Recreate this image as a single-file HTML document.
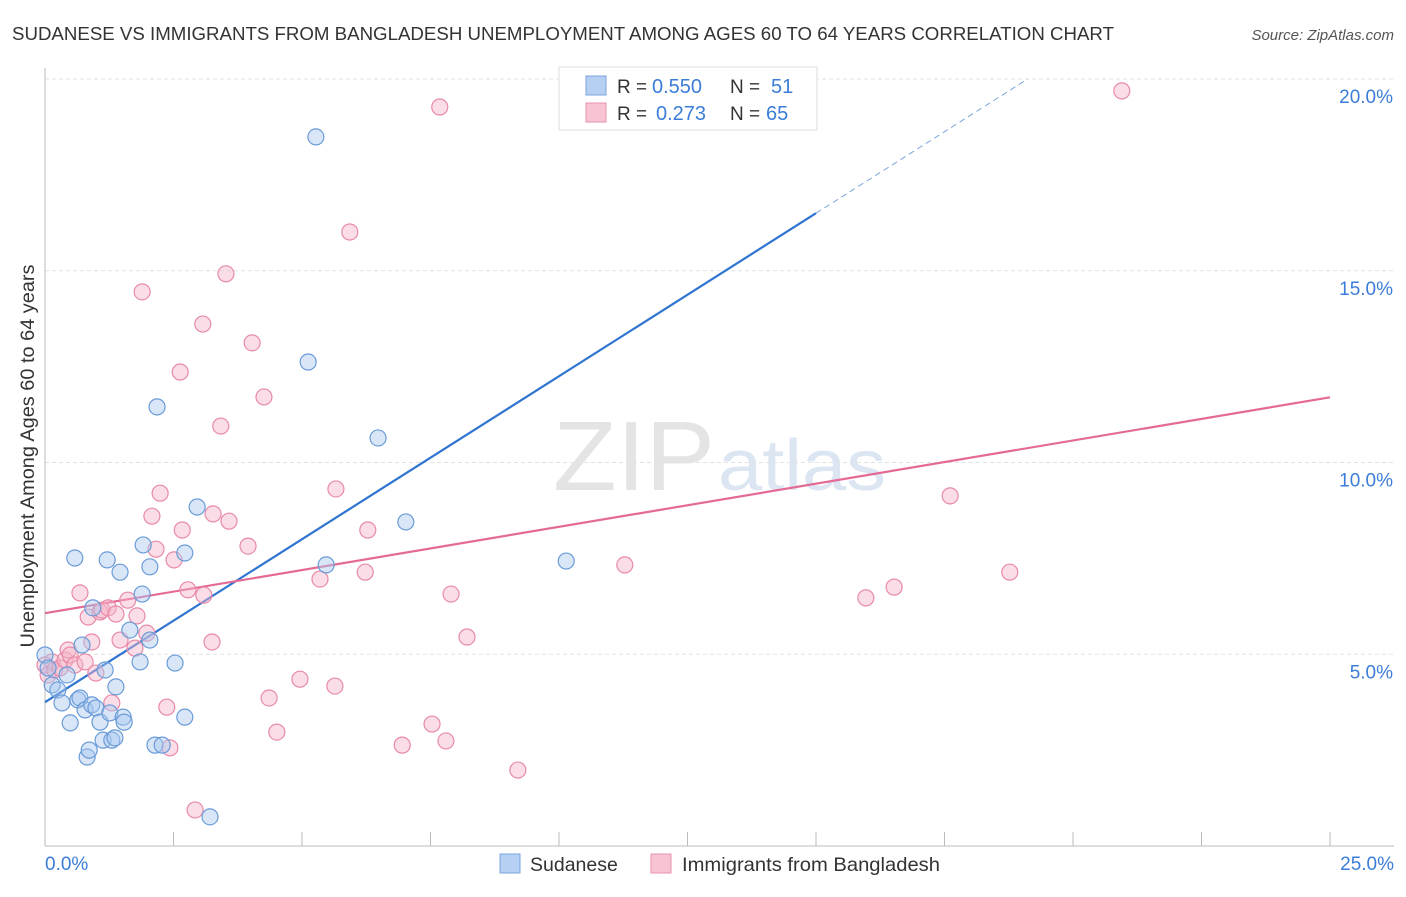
<!DOCTYPE html>
<html><head><meta charset="utf-8"><style>
body{margin:0;background:#fff;font-family:"Liberation Sans",sans-serif;}
svg text{font-family:"Liberation Sans",sans-serif;}
</style></head><body>
<svg id="chart" width="1406" height="892" xmlns="http://www.w3.org/2000/svg">
<text x="12" y="40" font-size="18" fill="#333" textLength="1102" lengthAdjust="spacingAndGlyphs">SUDANESE VS IMMIGRANTS FROM BANGLADESH UNEMPLOYMENT AMONG AGES 60 TO 64 YEARS CORRELATION CHART</text>
<text x="1394" y="40" font-size="15" fill="#555" font-style="italic" text-anchor="end">Source: ZipAtlas.com</text>
<text x="553" y="490" font-size="98" fill="#e4e4e4" font-family="Liberation Serif" textLength="162" lengthAdjust="spacingAndGlyphs">ZIP</text>
<text x="718" y="490" font-size="72" fill="#dce6f3" textLength="168" lengthAdjust="spacingAndGlyphs">atlas</text>
<g id="grid"></g><g id="axes"></g><g id="lines"></g><g id="pts"></g>
<text transform="translate(34,456) rotate(-90)" font-size="19" fill="#333" text-anchor="middle" textLength="383" lengthAdjust="spacingAndGlyphs">Unemployment Among Ages 60 to 64 years</text>
<g>
<rect x="559" y="67" width="258" height="63" fill="#fff" stroke="#ddd"/>
<rect x="586" y="76" width="20" height="19" fill="#b5d0f3" stroke="#7aa5dc"/>
<text x="617" y="93" font-size="19" fill="#333">R =</text>
<text x="652" y="93" font-size="20" fill="#3b7dd8">0.550</text>
<text x="730" y="93" font-size="19" fill="#333">N =</text>
<text x="771" y="93" font-size="20" fill="#3b7dd8">51</text>
<rect x="586" y="103" width="20" height="19" fill="#f8c3d3" stroke="#e893ae"/>
<text x="617" y="120" font-size="19" fill="#333">R =</text>
<text x="656" y="120" font-size="20" fill="#3b7dd8">0.273</text>
<text x="730" y="120" font-size="19" fill="#333">N =</text>
<text x="766" y="120" font-size="20" fill="#3b7dd8">65</text>
</g>
<g>
<rect x="500" y="854" width="20" height="19" fill="#b5d0f3" stroke="#7aa5dc"/>
<text x="530" y="871" font-size="19.5" fill="#333">Sudanese</text>
<rect x="651" y="854" width="20" height="19" fill="#f8c3d3" stroke="#e893ae"/>
<text x="682" y="871" font-size="19.5" fill="#333" textLength="258" lengthAdjust="spacingAndGlyphs">Immigrants from Bangladesh</text>
</g>
</svg>
<script>
const yTicks=[5,10,15,20];
const xTickLabels=["0.0%","25.0%"];
const blueX=[0,0.06,0.14,0.25,0.33,0.43,0.49,0.58,0.64,0.68,0.72,0.78,0.82,0.86,0.91,0.93,0.99,1.07,1.13,1.17,1.21,1.26,1.30,1.36,1.38,1.46,1.52,1.54,1.65,1.85,1.89,1.91,2.04,2.04,2.14,2.18,2.28,2.53,2.72,2.72,2.96,3.21,5.12,5.27,5.47,6.48,7.02,10.14];
const blueY=[4.98,4.64,4.20,4.07,3.73,4.46,3.21,7.51,3.81,3.86,5.24,3.55,2.32,2.50,3.68,6.21,3.60,3.23,2.76,4.59,7.46,3.47,2.76,2.82,4.15,7.14,3.36,3.23,5.63,4.80,6.57,7.85,7.28,5.37,2.63,11.45,2.63,4.77,7.64,3.36,8.84,0.76,12.62,18.49,7.33,10.64,8.45,7.43];
const pinkX=[0,0.06,0.14,0.19,0.29,0.39,0.45,0.49,0.58,0.68,0.78,0.84,0.91,0.99,1.07,1.11,1.23,1.30,1.38,1.46,1.61,1.75,1.79,1.89,1.98,2.08,2.16,2.24,2.37,2.43,2.51,2.63,2.67,2.78,2.92,3.07,3.09,3.25,3.27,3.42,3.52,3.58,3.95,4.03,4.26,4.36,4.51,4.96,5.35,5.64,5.66,5.93,6.23,6.28,6.95,7.53,7.68,7.80,7.90,8.21,9.20,11.28,15.97,16.52,17.61,18.77,20.95];
const pinkY=[4.72,4.46,4.80,4.59,4.64,4.85,5.11,4.98,4.72,6.60,4.80,5.97,5.32,4.51,6.10,6.15,6.21,3.73,6.05,5.37,6.41,5.16,6.00,14.45,5.55,8.60,7.74,9.20,3.62,2.56,7.46,12.36,8.24,6.68,0.94,13.61,6.54,5.32,8.66,10.95,14.92,8.47,7.82,13.12,11.71,3.86,2.97,4.35,6.96,4.17,9.31,16.01,7.14,8.24,2.63,3.18,19.27,2.74,6.57,5.45,1.98,7.33,6.47,6.75,9.13,7.14,19.69];
const blueTrend=[3.75,16.5];
const pinkTrend=[6.07,11.7];
const NS="http://www.w3.org/2000/svg";
const X=v=>45+v*51.4, Y=v=>846-v*38.35;
function mk(tag,at,parent){const e=document.createElementNS(NS,tag);for(const k in at)e.setAttribute(k,at[k]);document.getElementById(parent).appendChild(e);return e;}
yTicks.forEach(t=>{
 const g=mk('line',{x1:45,x2:1394,y1:Y(t),y2:Y(t),stroke:'#e2e2e2','stroke-dasharray':'4,3'},'grid');
 
 
 const l=mk('text',{x:1393,y:Y(t)+24,'font-size':19,fill:'#3b7dd8','text-anchor':'end'},'grid');l.textContent=t.toFixed(1)+'%';
 
 
});
mk('line',{x1:45,x2:1394,y1:846,y2:846,stroke:'#bbb'},'axes');
mk('line',{x1:45,x2:45,y1:68,y2:846,stroke:'#bbb'},'axes');
for(let i=0;i<=10;i++){const t=mk('line',{x1:X(i*2.5),x2:X(i*2.5),y1:832,y2:846,stroke:'#bbb'},'axes');
 
 }
const xl0=mk('text',{x:45,y:870,'font-size':19,fill:'#3b7dd8'},'axes');xl0.textContent=xTickLabels[0];


const xl1=mk('text',{x:1394,y:870,'font-size':19,fill:'#3b7dd8','text-anchor':'end'},'axes');xl1.textContent=xTickLabels[1];


function dot(x,y,f,s,name){const c=mk('circle',{cx:X(x),cy:Y(y),r:8,fill:f,'fill-opacity':0.45,stroke:s,'stroke-width':1.2},'pts');
 
 }
pinkX.forEach((x,i)=>dot(x,pinkY[i],'#f4b3c8','#e88aa8','bangladesh-point'));
blueX.forEach((x,i)=>dot(x,blueY[i],'#a9c8f0','#6a9bd8','sudanese-point'));
const bs=(blueTrend[1]-blueTrend[0])/15;
const bl=mk('line',{x1:X(0),y1:Y(blueTrend[0]),x2:X(15),y2:Y(blueTrend[1]),stroke:'#2f74d0','stroke-width':2.2},'lines');


const xe=(20-blueTrend[0])/bs;
const bd=mk('line',{x1:X(15),y1:Y(blueTrend[1]),x2:X(xe),y2:Y(20),stroke:'#7aa5dc','stroke-width':1,'stroke-dasharray':'6,4'},'lines');


const pl=mk('line',{x1:X(0),y1:Y(pinkTrend[0]),x2:X(25),y2:Y(pinkTrend[1]),stroke:'#e46a96','stroke-width':2.2},'lines');


</script>
</body></html>
